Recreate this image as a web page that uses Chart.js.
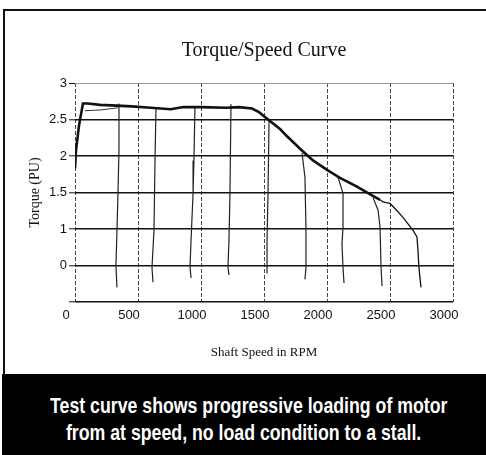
<!DOCTYPE html>
<html>
<head>
<meta charset="utf-8">
<script src="https://cdn.jsdelivr.net/npm/chart.js@4.4.1/dist/chart.umd.min.js"></script>
<style>
html, body { margin: 0; padding: 0; background: #fff; }
#wrap { position: relative; width: 486px; height: 455px; overflow: hidden; }
#frame { position: absolute; left: 3px; top: 9px; right: 0; bottom: 0; border-left: 2px solid #111; border-top: 2px solid #111; }
#cv { position: absolute; left: 0; top: 0; }
#cap {
    position: absolute; left: 2px; top: 374px; width: 484px; height: 81px;
    background: #000; color: #fff; text-align: center;
    font: bold 22px "Liberation Sans", Arial, sans-serif;
    line-height: 27px; box-sizing: border-box; padding-top: 18px;
}
#cap span { display: inline-block; white-space: nowrap; transform-origin: center; }
</style>
</head>
<body>
<div id="wrap">
    <div id="frame"></div>
    <canvas id="cv" width="486" height="374"></canvas>
    <div id="cap"><span id="l1">Test curve shows progressive loading of motor</span><br><span id="l2">from at speed, no load condition to a stall.</span></div>
</div>
<script>
// y axis is labelled oddly in the original: the line at 0.5 reads "0", bottom unlabelled
var yTickText = ["", "0", "1", "1.5", "2", "2.5", "3"];

// main run-up / torque-speed trace
var mainSpeed = [0, 8, 32, 63, 100, 200, 330, 450, 600, 760, 860, 1000, 1200, 1300, 1405, 1460, 1532,
    1627, 1683, 1786, 1889, 2000, 2103, 2238, 2357, 2421, 2445, 2470, 2500, 2556, 2603, 2683, 2714,
    2722, 2730, 2746];
var mainTorque = [1.83, 2.08, 2.42, 2.72, 2.72, 2.70, 2.69, 2.68, 2.66, 2.64, 2.67, 2.67, 2.66, 2.67, 2.65, 2.60, 2.50,
    2.37, 2.27, 2.10, 1.94, 1.81, 1.70, 1.58, 1.46, 1.40, 1.37, 1.36, 1.35, 1.25, 1.16, 0.98, 0.89,
    0.71, 0.46, 0.20];

// faint second trace just under the flat top
var sideSpeed = [79, 200, 340];
var sideTorque = [2.62, 2.63, 2.66];

// load steps: each drops from the curve toward stall
var dropSpeed = [
    [349, 349, 341, 333, 325, 333],
    [643, 635, 627, 611, 619],
    [952, 944, 937, 921, 913, 921],
    [1238, 1230, 1222, 1214, 1222],
    [1540, 1532, 1524, 1524, 1524],
    [1802, 1825, 1833, 1833, 1825],
    [2087, 2127, 2127, 2119, 2127, 2135],
    [2365, 2405, 2421, 2429, 2437]
];
var dropTorque = [
    [2.72, 2.08, 1.49, 0.98, 0.49, 0.20],
    [2.67, 1.94, 0.99, 0.47, 0.27],
    [2.67, 1.94, 1.49, 0.85, 0.48, 0.33],
    [2.71, 1.49, 0.85, 0.48, 0.37],
    [2.49, 1.49, 0.85, 0.48, 0.39],
    [2.04, 1.71, 1.02, 0.47, 0.31],
    [1.71, 1.49, 1.02, 0.80, 0.47, 0.26],
    [1.43, 1.26, 1.02, 0.47, 0.22]
];

var sans = "'Liberation Sans', Arial, sans-serif";
var serif = "'Liberation Serif', 'DejaVu Serif', serif";

// squeeze caption to look condensed
var l1 = document.getElementById("l1"), l2 = document.getElementById("l2");
var sc = 397 / l1.offsetWidth;
l1.style.transform = "scaleX(" + sc + ")";
l2.style.transform = "scaleX(" + sc + ")";

function pts(xs, ys) {
    var out = [];
    for (var i = 0; i < xs.length; i++) out.push({ x: xs[i], y: ys[i] });
    return out;
}

var sets = [];
sets.push({
    data: pts(mainSpeed, mainTorque),
    borderColor: "#111",
    borderWidth: 2.6,
    segment: {
        borderWidth: function (c) { return c.p0.parsed.x >= 2421 ? 1.3 : 2.6; }
    }
});
sets.push({ data: pts(sideSpeed, sideTorque), borderColor: "#333", borderWidth: 1 });
for (var k = 0; k < dropSpeed.length; k++) {
    sets.push({ data: pts(dropSpeed[k], dropTorque[k]), borderColor: "#222", borderWidth: 1.2 });
}
sets.forEach(function (s) {
    s.showLine = true;
    s.pointRadius = 0;
    s.tension = 0;
});

new Chart(document.getElementById("cv"), {
    type: "scatter",
    data: { datasets: sets },
    options: {
        responsive: false,
        animation: false,
        layout: { padding: { left: 0, right: 33, top: 0, bottom: 0 } },
        plugins: {
            legend: { display: false },
            tooltip: { enabled: false },
            title: {
                display: true,
                text: "Torque/Speed Curve",
                fullSize: false,
                color: "#111",
                font: { family: serif, size: 20, weight: "normal" },
                padding: { top: 39, bottom: 20 }
            }
        },
        scales: {
            x: {
                type: "linear",
                min: 0,
                max: 3000,
                afterFit: function (s) { s.height = 72; },
                ticks: {
                    stepSize: 500,
                    color: "#111",
                    padding: 6,
                    labelOffset: -9,
                    maxRotation: 0,
                    font: { family: sans, size: 13 },
                    callback: function (v) { return String(v); }
                },
                grid: { color: "#444", lineWidth: 1, drawTicks: false },
                border: { display: false, dash: [4, 2] },
                title: {
                    display: true,
                    text: "Shaft Speed in RPM",
                    color: "#111",
                    font: { family: serif, size: 13 },
                    padding: { top: 0, bottom: 14 }
                }
            },
            y: {
                type: "linear",
                min: 0,
                max: 3,
                afterFit: function (s) { s.width = 75; },
                ticks: {
                    stepSize: 0.5,
                    color: "#111",
                    padding: 2,
                    font: { family: sans, size: 13 },
                    callback: function (v, i) { return yTickText[i]; }
                },
                grid: {
                    color: function (c) { return c.tick && c.tick.value === 3 ? "#999" : "#111"; },
                    lineWidth: function (c) { return c.tick && c.tick.value === 3 ? 1 : 1.6; },
                    tickLength: 6,
                    tickColor: "#111",
                    tickWidth: 1
                },
                border: { display: false },
                title: {
                    display: true,
                    text: "Torque (PU)",
                    color: "#111",
                    font: { family: serif, size: 14 },
                    padding: { top: 27, bottom: 0 }
                }
            }
        }
    }
});
</script>
</body>
</html>
